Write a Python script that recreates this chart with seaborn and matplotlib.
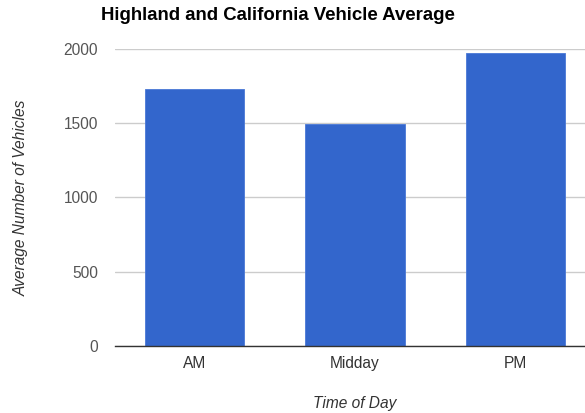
import matplotlib
matplotlib.use("Agg")
import matplotlib.pyplot as plt
import seaborn as sns

sns.set_style("white")
plt.rcParams["font.family"] = ["Liberation Sans", "DejaVu Sans"]

# data
times = ["AM", "Midday", "PM"]
vehicles = [1730, 1495, 1970]
yticks = [0, 500, 1000, 1500, 2000]

fig = plt.figure(figsize=(5.85, 4.13), dpi=100)
# plot area runs past the right edge, as in the reference
ax = fig.add_axes([0.196, 0.1622, 0.8217, 0.7192])

sns.barplot(x=times, y=vehicles, color="#3366CC", saturation=1,
            width=0.618, edgecolor="#4a78d6", linewidth=0.6, ax=ax, zorder=3)

ax.set_ylim(0, 2000)
ax.set_xlim(-0.5, 2.5)
ax.set_yticks(yticks)
ax.set_yticklabels([str(t) for t in yticks])
ax.grid(axis="y", color="#cccccc", linewidth=1, zorder=0)
ax.grid(axis="x", visible=False)
for s in ["top", "right", "left"]:
    ax.spines[s].set_visible(False)
ax.spines["bottom"].set_color("#333333")
ax.spines["bottom"].set_linewidth(1)
ax.spines["bottom"].set_zorder(4)

ax.tick_params(axis="y", length=0, pad=12, labelsize=11.2, labelcolor="#555555")
ax.tick_params(axis="x", length=0, pad=7.5, labelsize=11.2, labelcolor="#333333")

ax.set_xlabel("Time of Day", fontsize=11.2, style="italic", color="#333333", labelpad=18)
ax.set_ylabel("Average Number of Vehicles", fontsize=11.2, style="italic", color="#333333", labelpad=25)

fig.text(0.1735, 0.963, "Highland and California Vehicle Average", fontsize=13.4,
         fontweight="bold", color="black", ha="left", va="center")

fig.savefig("out.png", dpi=100)
